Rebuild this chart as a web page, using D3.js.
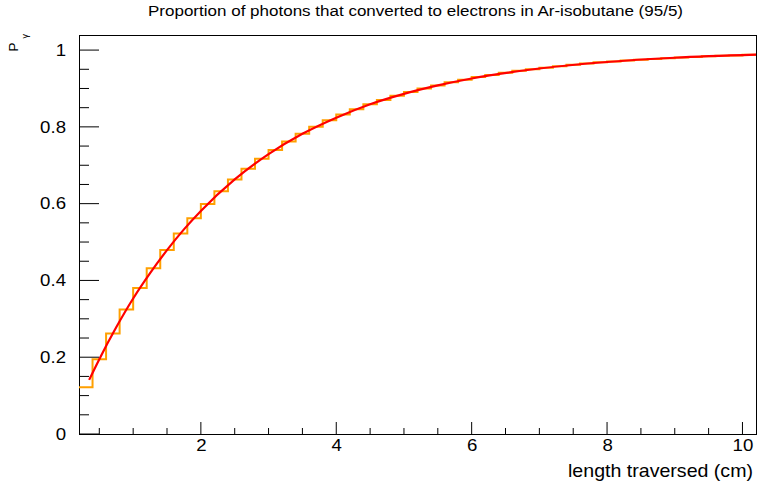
<!DOCTYPE html>
<html><head><meta charset="utf-8">
<script src="https://cdn.jsdelivr.net/npm/d3@7"></script>
<style>body{margin:0;background:#fff}svg{display:block}text{font-family:"Liberation Sans",Arial,Helvetica,sans-serif}</style>
</head><body><svg id="c" width="758" height="488"></svg>
<script>
// Histogram: 50 bins of width 0.2 from 0.2 to 10.2
const binLow = [0.2,0.4,0.6,0.8,1.0,1.2,1.4,1.6,1.8,2.0,2.2,2.4,2.6,2.8,3.0,3.2,3.4,3.6,3.8,4.0,4.2,4.4,4.6,4.8,5.0,5.2,5.4,5.6,5.8,6.0,6.2,6.4,6.6,6.8,7.0,7.2,7.4,7.6,7.8,8.0,8.2,8.4,8.6,8.8,9.0,9.2,9.4,9.6,9.8,10.0];
const binVal = [0.122,0.195,0.262,0.324,0.380,0.432,0.479,0.522,0.562,0.599,0.632,0.663,0.691,0.717,0.740,0.762,0.782,0.800,0.817,0.832,0.846,0.859,0.870,0.881,0.891,0.900,0.908,0.916,0.923,0.930,0.935,0.941,0.946,0.950,0.954,0.958,0.962,0.965,0.968,0.970,0.973,0.975,0.977,0.979,0.981,0.982,0.984,0.985,0.986,0.988];
const binHigh = 10.2;
// Fit curve samples
const fitX = [0.35,0.5,0.75,1.0,1.25,1.5,1.75,2.0,2.5,3.0,3.5,4.0,4.5,5.0,5.5,6.0,7.0,8.0,9.0,10.2];
const fitY = [0.141,0.195,0.278,0.353,0.419,0.479,0.533,0.581,0.663,0.729,0.782,0.824,0.859,0.886,0.908,0.926,0.952,0.969,0.980,0.988];
const xTicks = [2,4,6,8,10];
const yTicks = [0,0.2,0.4,0.6,0.8,1];
const xDomain = [0.2,10.2];
const yDomain = [0,1.038];

const svg = d3.select("#c");
const L=79,R=756,T=35.5,B=434;
const x = d3.scaleLinear().domain(xDomain).range([L,R]);
const y = d3.scaleLinear().domain(yDomain).range([B,T]);

// title
svg.append("text").attr("x",148).attr("y",15.5).attr("text-anchor","start")
  .attr("font-size",15.5).attr("fill","#000")
  .attr("textLength",535).attr("lengthAdjust","spacingAndGlyphs")
  .text("Proportion of photons that converted to electrons in Ar-isobutane (95/5)");

// frame
svg.append("rect").attr("x",L).attr("y",T).attr("width",R-L).attr("height",B-T)
  .attr("fill","none").attr("stroke","#000").attr("stroke-width",1).attr("shape-rendering","crispEdges");

// histogram
const pts = binLow.map((b,i)=>[b,binVal[i]]);
pts.push([binHigh, binVal[binVal.length-1]]);
svg.append("path").attr("d", d3.line().x(d=>x(d[0])).y(d=>y(d[1])).curve(d3.curveStepAfter)(pts))
  .attr("fill","none").attr("stroke","#ffa000").attr("stroke-width",2);

// fit
svg.append("path").attr("d", d3.line().x((d,i)=>x(fitX[i])).y(d=>y(d)).curve(d3.curveMonotoneX)(fitY))
  .attr("fill","none").attr("stroke","#ff0000").attr("stroke-width",2.2);

// x axis
const xMinor = d3.range(0.5,10.2,0.5).filter(v=>!xTicks.includes(v));
const xa = svg.append("g").attr("transform",`translate(0,${B})`);
xa.call(d3.axisBottom(x).tickValues(xTicks).tickSize(0).tickPadding(0).tickFormat(d3.format("d")));
xa.select(".domain").remove();
xa.selectAll(".tick text").attr("font-size",16.5).attr("fill","#000").attr("dy",null).attr("y",17.5)
  .attr("transform","scale(1.13,1)");
xTicks.forEach(v=>svg.append("line").attr("x1",x(v)).attr("x2",x(v)).attr("y1",B).attr("y2",B-12).attr("stroke","#000"));
xMinor.forEach(v=>svg.append("line").attr("x1",x(v)).attr("x2",x(v)).attr("y1",B).attr("y2",B-6).attr("stroke","#000"));

// y axis
const yMinor = d3.range(0,1.04,0.05).filter(v=>!yTicks.some(t=>Math.abs(t-v)<1e-6));
const ya = svg.append("g").attr("transform",`translate(${L},0)`);
ya.call(d3.axisLeft(y).tickValues(yTicks).tickSize(0).tickPadding(0).tickFormat(d=>d===0?"0":d===1?"1":d3.format(".1f")(d)));
ya.select(".domain").remove();
ya.selectAll(".tick text").attr("font-size",16.5).attr("fill","#000").attr("x",-11.5)
  .attr("transform","scale(1.13,1)");
yTicks.forEach(v=>svg.append("line").attr("x1",L).attr("x2",L+20).attr("y1",y(v)).attr("y2",y(v)).attr("stroke","#000"));
yMinor.forEach(v=>svg.append("line").attr("x1",L).attr("x2",L+10).attr("y1",y(v)).attr("y2",y(v)).attr("stroke","#000"));

// axis titles
svg.append("text").attr("x",753).attr("y",477).attr("text-anchor","end").attr("font-size",19).attr("fill","#000")
  .attr("textLength",185).attr("lengthAdjust","spacingAndGlyphs")
  .text("length traversed (cm)");
const yt = svg.append("text").attr("transform","translate(18,34) rotate(-90)").attr("text-anchor","end")
  .attr("fill","#000");
yt.append("tspan").attr("font-size",13.5).text("P");
yt.append("tspan").attr("font-size",9).attr("dx",4).attr("dy",10).text("γ");
</script></body></html>
